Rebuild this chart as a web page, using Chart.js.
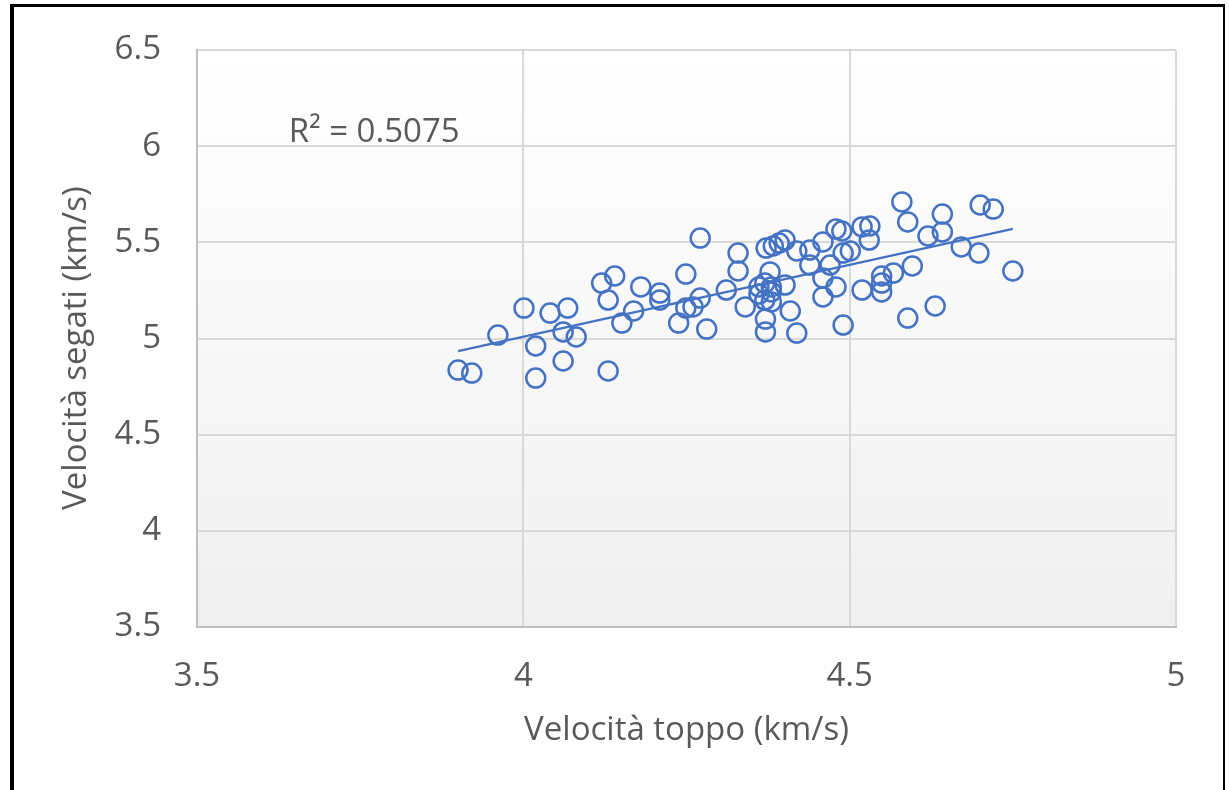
<!DOCTYPE html>
<html>
<head>
<meta charset="utf-8">
<script src="https://cdn.jsdelivr.net/npm/chart.js@4.4.1/dist/chart.umd.min.js"></script>
<style>
  html, body { margin: 0; padding: 0; background: #ffffff; overflow: hidden; }
  #wrap { position: relative; width: 1229px; height: 790px; }
  #c { position: absolute; left: 0; top: 0; }
  #frame { position: absolute; left: 10px; top: 4px; width: 1209px; height: 820px;
           border-left: 4px solid #000; border-top: 3px solid #000; border-right: 2px solid #000;
           pointer-events: none; }
</style>
</head>
<body>
<div id="wrap">
  <canvas id="c" width="1229" height="790"></canvas>
  <div id="frame"></div>
</div>
<script>
// ---- data ----
const xValues = [3.900,3.921,3.961,4.001,4.019,4.019,4.041,4.061,4.061,4.068,4.081,4.120,4.130,4.130,4.140,4.151,4.169,4.180,4.209,4.209,4.238,4.249,4.249,4.260,4.271,4.271,4.281,4.311,4.329,4.329,4.340,4.361,4.361,4.370,4.380,4.380,4.370,4.380,4.371,4.371,4.372,4.383,4.392,4.401,4.378,4.401,4.409,4.419,4.419,4.439,4.439,4.459,4.459,4.459,4.470,4.479,4.488,4.479,4.490,4.501,4.490,4.519,4.519,4.531,4.530,4.549,4.549,4.549,4.567,4.580,4.589,4.589,4.596,4.620,4.631,4.642,4.642,4.671,4.698,4.700,4.720,4.750];
const yValues = [4.836,4.820,5.018,5.158,4.961,4.794,5.132,5.034,4.883,5.158,5.008,5.288,5.200,4.831,5.325,5.080,5.143,5.268,5.236,5.200,5.080,5.335,5.158,5.164,5.210,5.522,5.049,5.252,5.444,5.351,5.164,5.268,5.231,5.288,5.268,5.242,5.200,5.190,5.101,5.034,5.470,5.481,5.496,5.512,5.346,5.278,5.143,5.028,5.455,5.460,5.382,5.502,5.314,5.216,5.382,5.569,5.559,5.268,5.444,5.455,5.070,5.252,5.580,5.585,5.512,5.325,5.288,5.242,5.340,5.710,5.606,5.106,5.377,5.533,5.169,5.647,5.554,5.476,5.444,5.694,5.673,5.351];
const xTickLabels = ['3.5', '4', '4.5', '5'];
const yTickLabels = ['3.5', '4', '4.5', '5', '5.5', '6', '6.5'];
const xTitle = 'Velocità toppo (km/s)';
const yTitle = 'Velocità segati (km/s)';
const r2Label = 'R² = 0.5075';

// points
const points = xValues.map((x, i) => ({ x: x, y: yValues[i] }));

// linear trendline (least squares, as the spreadsheet does)
const n = xValues.length;
const mx = xValues.reduce((a, b) => a + b, 0) / n;
const my = yValues.reduce((a, b) => a + b, 0) / n;
let sxy = 0, sxx = 0;
for (let i = 0; i < n; i++) { sxy += (xValues[i] - mx) * (yValues[i] - my); sxx += (xValues[i] - mx) ** 2; }
const slope = sxy / sxx;
const intercept = my - slope * mx;
const xMin = Math.min(...xValues), xMax = Math.max(...xValues);
const trend = [{ x: xMin, y: intercept + slope * xMin }, { x: xMax, y: intercept + slope * xMax }];

const FONT = "'Open Sans', 'Noto Sans', sans-serif";
const TEXT = '#595959';
const BLUE = '#4472C4';

const bgPlugin = {
  id: 'plotBg',
  beforeDraw(chart) {
    const { ctx, chartArea: a } = chart;
    const g = ctx.createLinearGradient(0, a.top, 0, a.bottom);
    g.addColorStop(0, '#ffffff');
    g.addColorStop(1, '#f0f0f0');
    ctx.save();
    ctx.fillStyle = g;
    ctx.fillRect(a.left, a.top, a.right - a.left, a.bottom - a.top);
    ctx.restore();
  }
};

const labelPlugin = {
  id: 'textLabels',
  afterDatasetsDraw(chart) {
    const { ctx, scales } = chart;
    ctx.save();
    ctx.font = "33px " + FONT;
    ctx.fillStyle = TEXT;
    ctx.textAlign = 'left';
    ctx.textBaseline = 'alphabetic';
    ctx.fillText(r2Label, scales.x.getPixelForValue(3.6406), scales.y.getPixelForValue(6.0216));
    // y-axis title, rotated
    ctx.translate(76.5, scales.y.getPixelForValue(4.95));
    ctx.rotate(-Math.PI / 2);
    ctx.textAlign = 'center';
    ctx.textBaseline = 'middle';
    ctx.fillText(yTitle, 0, 0);
    ctx.restore();
  }
};

new Chart(document.getElementById('c'), {
  type: 'scatter',
  data: {
    datasets: [
      {
        label: 'Dati',
        data: points,
        pointStyle: 'circle',
        pointRadius: 9.5,
        pointHoverRadius: 9.5,
        borderWidth: 2.5,
        borderColor: BLUE,
        backgroundColor: 'rgba(0,0,0,0)',
        order: 2
      },
      {
        label: 'Lineare',
        type: 'line',
        data: trend,
        showLine: true,
        borderColor: BLUE,
        borderWidth: 2.25,
        pointRadius: 0,
        fill: false,
        order: 1
      }
    ]
  },
  options: {
    responsive: false,
    animation: false,
    events: [],
    layout: { padding: { left: 0, top: 50, right: 53, bottom: 0 } },
    plugins: { legend: { display: false }, tooltip: { enabled: false } },
    scales: {
      x: {
        type: 'linear',
        min: 3.5, max: 5,
        afterBuildTicks(s) { s.ticks = xTickLabels.map(v => ({ value: parseFloat(v) })); },
        afterFit(s) { s.height = 163; s.paddingLeft = 0; s.paddingRight = 0; },
        grid: { color: '#d9d9d9', lineWidth: 2, drawTicks: false },
        border: { color: '#bfbfbf', width: 2 },
        ticks: {
          padding: 30,
          color: TEXT,
          font: { family: FONT, size: 33 },
          maxRotation: 0,
          callback: (v, i) => xTickLabels[i]
        },
        title: {
          display: true, text: xTitle, color: TEXT,
          font: { family: FONT, size: 33 },
          padding: { top: 0, bottom: 40 }
        }
      },
      y: {
        type: 'linear',
        min: 3.5, max: 6.5,
        afterBuildTicks(s) { s.ticks = yTickLabels.map(v => ({ value: parseFloat(v) })); },
        afterFit(s) { s.width = 197; s.paddingTop = 0; s.paddingBottom = 0; },
        grid: { color: '#d9d9d9', lineWidth: 2, drawTicks: false },
        border: { color: '#bfbfbf', width: 2 },
        ticks: {
          padding: 36,
          color: TEXT,
          font: { family: FONT, size: 33 },
          callback: (v, i) => yTickLabels[i]
        },
        title: { display: false }
      }
    }
  },
  plugins: [bgPlugin, labelPlugin]
});
</script>
</body>
</html>
